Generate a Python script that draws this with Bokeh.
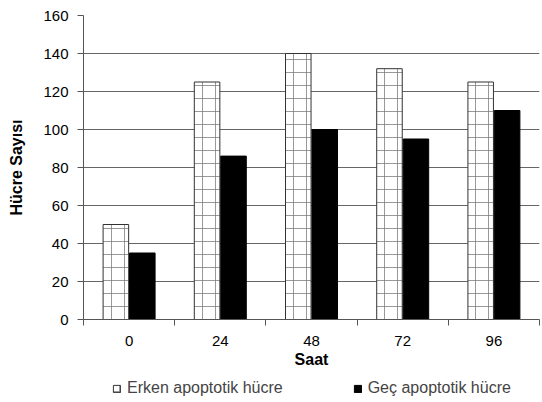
from bokeh.plotting import figure
from bokeh.layouts import column
from bokeh.models import FixedTicker, Legend, LegendItem, Range1d
from bokeh.embed import file_html
from bokeh.resources import INLINE

# Cell counts per time point
saat = ["0", "24", "48", "72", "96"]
erken = [50, 125, 140, 132, 125]
gec = [35, 86, 100, 95, 110]
series_names = ["Erken apoptotik hücre", "Geç apoptotik hücre"]

FONT = "Liberation Sans"
bar_w = 0.28
off = 0.145

centers = [i + 0.5 for i in range(len(saat))]
x_erken = [c - off for c in centers]
x_gec = [c + off for c in centers]

erken_style = dict(fill_color="white", line_color="#333333", line_width=1,
                   hatch_pattern="+", hatch_scale=13, hatch_color="#777777",
                   hatch_weight=1, hatch_alpha=0.75)
gec_style = dict(fill_color="black", line_color="black")

p = figure(width=542, height=372, output_backend="svg", toolbar_location=None,
           x_range=Range1d(0, len(saat)), y_range=Range1d(0, 160),
           min_border_left=83, min_border_right=3, min_border_top=15,
           min_border_bottom=53)
p.outline_line_color = None
p.background_fill_color = "white"

p.vbar(x=x_erken, top=erken, width=bar_w, **erken_style)
p.vbar(x=x_gec, top=gec, width=bar_w, **gec_style)

# x axis: labels at category centres, tick marks at category boundaries
p.xaxis.ticker = FixedTicker(ticks=centers, minor_ticks=list(range(len(saat) + 1)))
p.xaxis.major_label_overrides = {c: s for c, s in zip(centers, saat)}
p.xaxis.major_tick_line_color = None
p.xaxis.major_tick_in = 0
p.xaxis.major_tick_out = 6
p.xaxis.minor_tick_in = 0
p.xaxis.minor_tick_out = 6
p.xaxis.minor_tick_line_color = "#555555"
p.xaxis.axis_line_color = "#555555"
p.xaxis.axis_label = "Saat"

p.yaxis.ticker = FixedTicker(ticks=list(range(0, 161, 20)))
p.yaxis.minor_tick_line_color = None
p.yaxis.major_tick_in = 0
p.yaxis.major_tick_out = 6
p.yaxis.major_tick_line_color = "#555555"
p.yaxis.axis_line_color = "#555555"
p.yaxis.axis_label = "Hücre Sayısı"

for ax in (p.xaxis[0], p.yaxis[0]):
    ax.major_label_text_font = FONT
    ax.major_label_text_font_size = "15px"
    ax.major_label_text_color = "black"
    ax.axis_label_text_font = FONT
    ax.axis_label_text_font_size = "16px"
    ax.axis_label_text_font_style = "bold"
    ax.axis_label_text_color = "black"
p.xaxis.major_label_standoff = 10
p.xaxis.axis_label_standoff = 2
p.yaxis.major_label_standoff = 9
p.yaxis.axis_label_standoff = 15

p.xgrid.grid_line_color = None
p.ygrid.grid_line_color = "#666666"
p.ygrid.grid_line_width = 1

# Legend strip underneath the chart; its key renderers sit outside the view
leg = figure(width=542, height=30, output_backend="svg", toolbar_location=None,
             x_axis_type=None, y_axis_type=None, min_border=0,
             x_range=Range1d(0, len(saat)), y_range=Range1d(500, 501))
leg.outline_line_color = None
leg.xgrid.grid_line_color = None
leg.ygrid.grid_line_color = None
k1 = leg.vbar(x=x_erken, top=erken, width=bar_w, **erken_style)
k2 = leg.vbar(x=x_gec, top=gec, width=bar_w, **gec_style)

legend = Legend(items=[LegendItem(label=series_names[0], renderers=[k1]),
                       LegendItem(label=series_names[1], renderers=[k2])],
                orientation="horizontal", location=(29, 5),
                spacing=70, padding=0, margin=0,
                glyph_width=9, glyph_height=9, label_standoff=6,
                label_text_font=FONT, label_text_font_size="16px",
                border_line_color=None, background_fill_alpha=0)
leg.add_layout(legend, "center")

layout = column(p, leg, spacing=0)
open("out.html", "w").write(file_html(layout, INLINE))
